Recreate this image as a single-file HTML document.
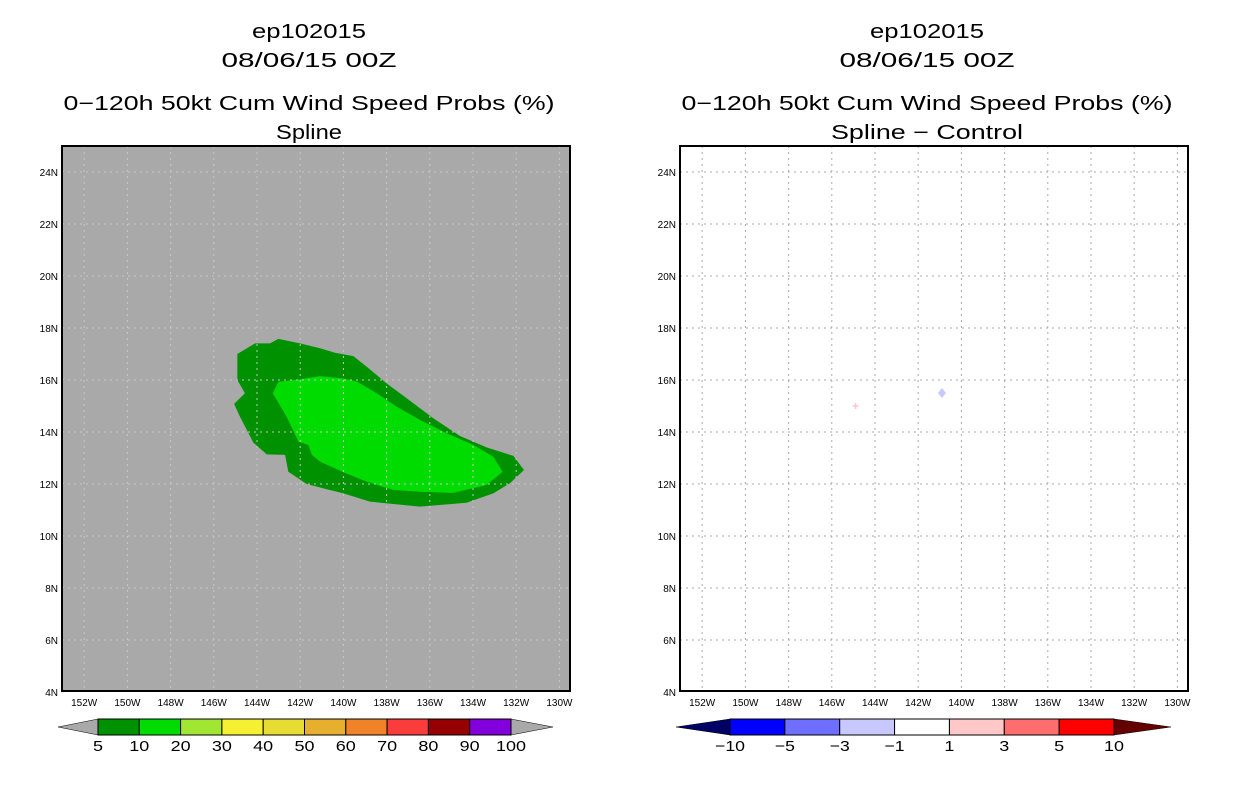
<!DOCTYPE html>
<html><head><meta charset="utf-8"><style>
body{margin:0;background:#fff;}
svg text{font-family:"Liberation Sans",sans-serif;}
</style></head><body>
<svg id="c" width="1236" height="800" xmlns="http://www.w3.org/2000/svg"></svg>
<script>
const lonTicks=[152,150,148,146,144,142,140,138,136,134,132,130];
const latTicks=[4,6,8,10,12,14,16,18,20,22,24];
const outerLon=[144.91,144.09,143.40,143.01,142.01,141.08,140.39,139.54,138.92,138.00,137.07,135.84,134.61,133.37,132.13,131.64,132.29,133.06,134.30,136.45,137.69,138.77,140.00,140.77,141.70,142.55,142.70,143.55,144.17,144.79,145.06,144.56,144.91];
const outerLat=[17.0,17.41,17.41,17.58,17.41,17.22,17.05,16.92,16.51,15.87,15.30,14.53,13.85,13.41,13.08,12.54,12.03,11.64,11.28,11.13,11.23,11.32,11.64,11.80,12.00,12.47,13.12,13.14,13.59,14.59,15.08,15.49,16.00];
const innerLon=[143.01,142.01,141.08,140.00,139.38,138.46,137.53,136.45,135.22,133.98,133.06,132.63,133.37,134.92,136.45,137.69,138.92,140.00,141.08,141.46,141.62,142.08,142.63,143.27];
const innerLat=[15.93,16.03,16.15,16.06,15.94,15.49,14.97,14.46,13.95,13.50,13.05,12.47,11.96,11.66,11.70,11.77,12.09,12.45,12.86,13.12,13.50,13.63,14.59,15.49];
const probLevels=["5","10","20","30","40","50","60","70","80","90","100"];
const probColors=["#009100","#00dc00","#a0e632","#f5f032","#e6dc32","#e6af2d","#f08228","#fa3c3c","#960000","#8200dc"];
const diffLevels=["\u221210","\u22125","\u22123","\u22121","1","3","5","10"];
const diffColors=["#0000ff","#6e6eff","#c8c8ff","#ffffff","#ffc8c8","#ff6e6e","#ff0000"];
const diffPlusLon=[144.9],diffPlusLat=[15.0];
const diffDiamondLon=[140.9],diffDiamondLat=[15.5];

const NS="http://www.w3.org/2000/svg";
const svg=document.getElementById('c');
function mk(t,a,p){const e=document.createElementNS(NS,t);for(const k in a)e.setAttribute(k,a[k]);(p||svg).appendChild(e);return e;}
const W=508;
function xs(off){return lon=>off+195+(144-lon)*21.6;}
function ys(lat){return 380-(lat-16)*26;}
function txt(x,y,s,size,name,anchor,len){const a={x:x,y:y,'font-size':size,'text-anchor':anchor||'middle',fill:'#000'};if(len){a.textLength=len;a.lengthAdjust='spacingAndGlyphs';}const t=mk('text',a);t.textContent=s;return t;}

function panel(off,right){
  const X=xs(off);
  const g=mk('g',{});
  
  
  const bg=mk('rect',{x:off,y:146,width:W,height:545,fill:right?'#fff':'#a9a9a9'},g);
  
  if(!right){
    const pts=(lo,la)=>lo.map((v,i)=>X(v)+','+ys(la[i])).join(' ');
    const o=mk('polygon',{points:pts(outerLon,outerLat),fill:probColors[0]},g);
    
    const n=mk('polygon',{points:pts(innerLon,innerLat),fill:probColors[1]},g);
    
  }else{
    diffPlusLon.forEach((v,i)=>{const x=X(v),y=ys(diffPlusLat[i]);
      const p=mk('path',{d:`M${x-3} ${y}H${x+3}M${x} ${y-3}V${y+3}`,stroke:'#ffc8c8','stroke-width':1.5},g);
      });
    diffDiamondLon.forEach((v,i)=>{const x=X(v),y=ys(diffDiamondLat[i]);
      const p=mk('polygon',{points:`${x},${y-5} ${x+4},${y} ${x},${y+5} ${x-4},${y}`,fill:'#c8c8ff'},g);
      });
  }
  const gc=right?'#aaa':'#c8c8c8';
  lonTicks.forEach(l=>{const x=X(l);
    const ln=mk('line',{x1:x,x2:x,y1:146,y2:691,stroke:gc,'stroke-dasharray':'2,4'},g);
    
    txt(x,706,l+'W',10,'x-tick-label');});
  latTicks.forEach(l=>{const y=ys(l);
    if(l>4){const ln=mk('line',{x1:off,x2:off+W,y1:y,y2:y,stroke:gc,'stroke-dasharray':'2,4'},g);
    }
    txt(off-4,y+4,l+'N',10,'y-tick-label','end');});
  const fr=mk('rect',{x:off,y:146,width:W,height:545,fill:'none',stroke:'#000','stroke-width':2},g);
  
  const cx=off+247;
  txt(cx,38,'ep102015',20,'title-storm','middle',114);
  txt(cx,67,'08/06/15 00Z',20,'title-date','middle',175);
  txt(cx,110,'0\u2212120h 50kt Cum Wind Speed Probs (%)',20,'title-product','middle',491);
  txt(cx,139,right?'Spline \u2212 Control':'Spline',20,'subtitle','middle',right?192:66);
}
panel(62,false);panel(680,true);

function colorbar(x0,x1,tipL,tipR,cols,labs,leftC,rightC,name){
  const g=mk('g',{});
  const y0=719,y1=735,ym=727,w=(x1-x0)/cols.length;
  const a=mk('polygon',{points:`${tipL},${ym} ${x0},${y0} ${x0},${y1}`,fill:leftC,stroke:'#000','stroke-width':0.5},g);
  
  const b=mk('polygon',{points:`${tipR},${ym} ${x1},${y0} ${x1},${y1}`,fill:rightC,stroke:'#000','stroke-width':0.5},g);
  
  cols.forEach((c,i)=>{const r=mk('rect',{x:x0+i*w,y:y0,width:w,height:y1-y0,fill:c,stroke:'#000','stroke-width':1},g);
    });
  labs.forEach((s,i)=>txt(x0+i*w,751,s,15,'colorbar-label','middle',s.length*10));
}
colorbar(98,511,58,553,probColors,probLevels,'#a9a9a9','#a9a9a9','prob-colorbar');
colorbar(730,1114,676,1171,diffColors,diffLevels,'#000064','#640000','diff-colorbar');
</script>
</body></html>
